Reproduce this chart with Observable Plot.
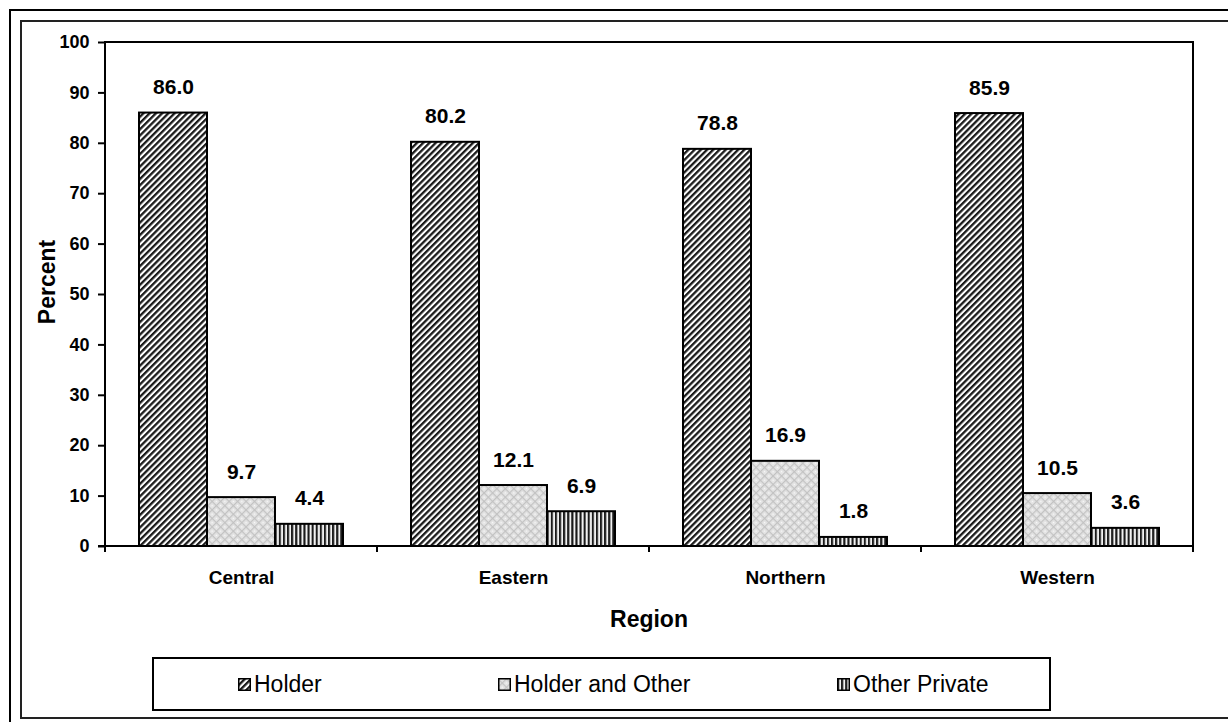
<!DOCTYPE html>
<html><head><meta charset="utf-8">
<script src="https://cdn.jsdelivr.net/npm/d3@7"></script>
<script src="https://cdn.jsdelivr.net/npm/@observablehq/plot@0.6"></script>
<style>
body{margin:0;background:#fff;font-family:"Liberation Sans",Arial,sans-serif;}
#page{position:relative;width:1228px;height:722px;overflow:hidden;background:#fff;}
#chart{position:absolute;left:0;top:0;width:1228px;}
.outer{position:absolute;left:9px;top:9px;width:1300px;height:800px;border-left:2px solid #000;border-top:2px solid #000;}
.inner{position:absolute;left:20px;top:20px;width:1300px;height:695px;border-left:2px solid #222;border-top:2px solid #222;border-bottom:2px solid #222;}
#legend{position:absolute;left:152px;top:657px;width:899px;height:54px;box-sizing:border-box;border:2px solid #000;}
.item{position:absolute;top:0;height:50px;display:flex;align-items:center;font-size:23px;color:#000;}
.item svg{margin-right:3px;}
</style></head><body>
<div id="page">
  <div id="chart"></div>
  <div class="outer"></div>
  <div class="inner"></div>
  <div id="legend"></div>
</div>
<script>
const regions = ["Central", "Eastern", "Northern", "Western"];
const seriesNames = ["Holder", "Holder and Other", "Other Private"];
const holder = [86.0, 80.2, 78.8, 85.9];
const holderAndOther = [9.7, 12.1, 16.9, 10.5];
const otherPrivate = [4.4, 6.9, 1.8, 3.6];
const yTicks = [0, 10, 20, 30, 40, 50, 60, 70, 80, 90, 100];

const patternIds = {"Holder": "p-holder", "Holder and Other": "p-holder-other", "Other Private": "p-other-private"};
const seriesValues = [holder, holderAndOther, otherPrivate];
const data = [];
regions.forEach((r, i) => seriesNames.forEach((s, j) => data.push({region: r, series: s, value: seriesValues[j][i]})));

const plot = Plot.plot({
  width: 1228, height: 650,
  marginLeft: 105, marginRight: 35, marginTop: 42, marginBottom: 104,
  style: {background: "transparent", fontFamily: "'Liberation Sans', Arial, sans-serif", fontWeight: "bold", color: "#000"},
  fx: {domain: regions, padding: 0, label: null},
  x: {domain: seriesNames, paddingInner: 0, paddingOuter: 0.5, axis: null},
  y: {domain: [0, 100], label: null},
  color: {type: "identity"},
  marks: [
    Plot.axisY({ticks: yTicks, tickSize: 7, tickPadding: 9, fontSize: 18, fontWeight: "bold", strokeWidth: 2, label: null}),
    Plot.axisFx({anchor: "bottom", tickSize: 0, tickPadding: 24, fontSize: 19, fontWeight: "bold", label: null}),
    Plot.barY(data, {fx: "region", x: "series", y: "value", fill: d => `url(#${patternIds[d.series]})`, stroke: "#000", strokeWidth: 2}),
    Plot.text(data, {fx: "region", x: "series", y: "value", text: d => d.value.toFixed(1), dy: -19, lineAnchor: "bottom", fontSize: 21, fontWeight: "bold", fill: "#000"})
  ]
});
document.getElementById("chart").appendChild(plot);

const svg = d3.select(plot);
svg.insert("defs", ":first-child").html(`
  <pattern id="p-holder" width="4.4" height="4.4" patternUnits="userSpaceOnUse" patternTransform="rotate(45)">
    <rect width="4.4" height="4.4" fill="#fff"/><rect width="2.3" height="4.4" fill="#1a1a1a"/>
  </pattern>
  <pattern id="p-holder-other" width="6" height="6" patternUnits="userSpaceOnUse" patternTransform="rotate(45)">
    <rect width="6" height="6" fill="#e4e4e4"/>
    <rect width="1.2" height="6" fill="#c2c2c2"/><rect width="6" height="1.2" fill="#c2c2c2"/>
    <rect x="3" y="3" width="1.2" height="1.2" fill="#fafafa"/>
  </pattern>
  <pattern id="p-other-private" width="4.1" height="4.1" patternUnits="userSpaceOnUse">
    <rect width="4.1" height="4.1" fill="#f2f2f2"/><rect width="2.1" height="4.1" fill="#1a1a1a"/>
  </pattern>`);

const y = plot.scale("y"), fx = plot.scale("fx");
const y0 = y.apply(0), y1 = y.apply(100);
const xL = fx.apply(regions[0]);
const xR = fx.apply(regions[regions.length - 1]) + fx.bandwidth;
const g = svg.append("g").attr("stroke", "#000").attr("stroke-width", 2).attr("fill", "none");
g.append("path").attr("d", `M${xL},${y0 + 6}V${y1}H${xR}V${y0 + 6}`);
g.append("path").attr("d", `M${xL - 7},${y0}H${xR}`);
regions.forEach(r => g.append("path").attr("d", `M${fx.apply(r)},${y0}v6`));

svg.append("text").attr("x", (xL + xR) / 2).attr("y", 627).attr("text-anchor", "middle")
  .attr("font-size", 23).attr("font-weight", "bold").attr("fill", "#000").text("Region");
svg.append("text").attr("transform", `translate(55,${(y0 + y1) / 2 - 12}) rotate(-90)`).attr("text-anchor", "middle")
  .attr("font-size", 23).attr("font-weight", "bold").attr("fill", "#000").text("Percent");

const legendX = [238, 498, 837];
const legend = document.getElementById("legend");
seriesNames.forEach((s, i) => {
  const item = document.createElement("div");
  item.className = "item";
  item.style.left = (legendX[i] - 152 - 2) + "px";
  item.innerHTML = `<svg width="13" height="13"><rect x="0.75" y="0.75" width="11.5" height="11.5" fill="url(#${patternIds[s]})" stroke="#000" stroke-width="1.5"/></svg><span>${s}</span>`;
  legend.appendChild(item);
});
</script>
</body></html>
